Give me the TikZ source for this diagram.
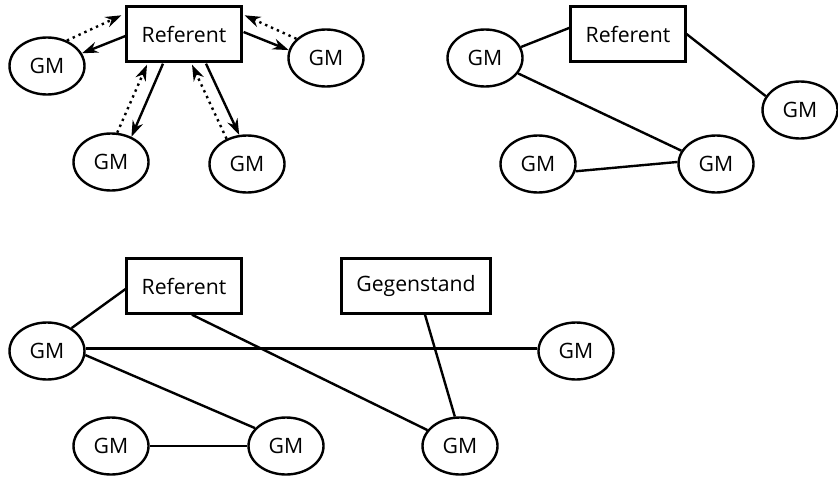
\documentclass[tikz,border=0pt]{standalone}
\usepackage{fontspec}
\setmainfont{Open Sans}
\usetikzlibrary{shapes.geometric, arrows.meta}

\begin{document}
\begin{tikzpicture}[x = 0.5pt, y = -0.5pt, line width = 1.2pt,
                      font = \fontsize{10.6pt}{13pt}\selectfont,
                      gm/.style = {ellipse, draw, minimum width = 37.5pt, minimum height = 28.5pt, inner sep = 0pt},
                      referent/.style = {rectangle, draw, minimum height = 27.5pt, inner xsep = 7.5pt},
                      hin/.style = {-{Stealth[length = 8pt, width = 5.5pt]}},
                      rueck/.style = {dotted, -{Stealth[length = 8pt, width = 5.5pt]}}]
    \useasboundingbox (0, 0) rectangle (838, 476);

    % oben links
    \node [referent] (r1) at (184, 34){Referent};
    \node [gm] (a1) at (47, 66){GM};
    \node [gm] (a2) at (326, 58){GM};
    \node [gm] (a3) at (111, 162){GM};
    \node [gm] (a4) at (247, 164){GM};

    \draw [hin] ([shift={(0, 2)}]r1.west) -- (a1.20);
    \draw [rueck] (a1.52) -- ([shift={(-4, 10)}]r1.north west);
    \draw [hin] ([shift={(1, -2)}]r1.east) -- (a2.168);
    \draw [rueck] (a2.147) -- ([shift={(2, 10)}]r1.north east);
    \draw [hin] ([shift={(-21, 1)}]r1.south) -- (a3.51);
    \draw [rueck] (a3.78) -- ([shift={(-37, 2)}]r1.south);
    \draw [hin] ([shift={(22, 1)}]r1.south) -- (a4.105);
    \draw [rueck] (a4.129) -- ([shift={(8, 2)}]r1.south);

    % oben rechts
    \node [referent] (r2) at (628, 34){Referent};
    \node [gm] (b1) at (485, 58){GM};
    \node [gm] (b2) at (800, 110){GM};
    \node [gm] (b3) at (538, 164){GM};
    \node [gm] (b4) at (716, 164){GM};

    \draw (r2.174) -- (b1.17);
    \draw (r2.east) -- (b2.158);
    \draw (b1.-25) -- (b4.159);
    \draw (b3.-11) -- (b4.177);

    % unten
    \node [referent] (r3) at (184, 286){Referent};
    \node [referent] (g3) at (416, 286){Gegenstand};
    \node [gm] (c1) at (47, 351){GM};
    \node [gm] (c2) at (576, 351){GM};
    \node [gm] (c3) at (111, 446){GM};
    \node [gm] (c4) at (286, 446){GM};
    \node [gm] (c5) at (460, 446){GM};

    \draw (r3.183) -- (c1.43);
    \draw ([shift={(8, 0)}]r3.south) -- (c5.154);
    \draw (c1.4) -- (c2.176);
    \draw (c1.-6) -- (c4.150);
    \draw ([shift={(9, 0)}]g3.south) -- (c5.100);
    \draw (c3.east) -- (c4.west);
    \end{tikzpicture}
\end{document}
